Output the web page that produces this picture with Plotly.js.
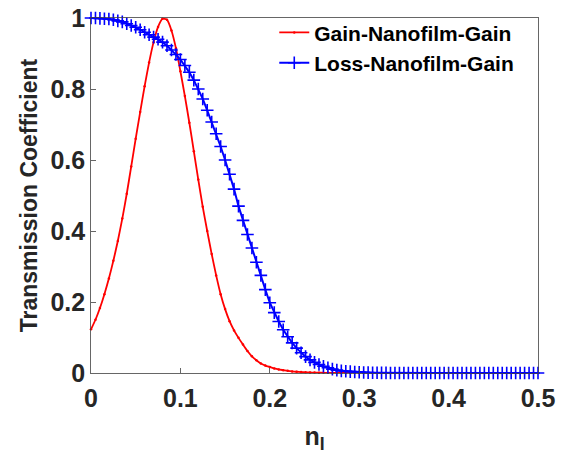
<!DOCTYPE html>
<html>
<head>
<meta charset="utf-8">
<script src="https://cdn.plot.ly/plotly-3.0.1.min.js"></script>
<style>html,body{margin:0;padding:0;background:#fff;}#chart{width:570px;height:454px;}</style>
</head>
<body>
<div id="chart"></div>
<script>
// n_I values (step 0.005 from 0 to 0.5)
const nI = [
0.000,0.005,0.010,0.015,0.020,0.025,0.030,0.035,0.040,0.045,
0.050,0.055,0.060,0.065,0.070,0.075,0.080,0.085,0.090,0.095,
0.100,0.105,0.110,0.115,0.120,0.125,0.130,0.135,0.140,0.145,
0.150,0.155,0.160,0.165,0.170,0.175,0.180,0.185,0.190,0.195,
0.200,0.205,0.210,0.215,0.220,0.225,0.230,0.235,0.240,0.245,
0.250,0.255,0.260,0.265,0.270,0.275,0.280,0.285,0.290,0.295,
0.300,0.305,0.310,0.315,0.320,0.325,0.330,0.335,0.340,0.345,
0.350,0.355,0.360,0.365,0.370,0.375,0.380,0.385,0.390,0.395,
0.400,0.405,0.410,0.415,0.420,0.425,0.430,0.435,0.440,0.445,
0.450,0.455,0.460,0.465,0.470,0.475,0.480,0.485,0.490,0.495,
0.500];

// Gain-Nanofilm-Gain transmission
const gainGain = [
0.123,0.150,0.183,0.222,0.266,0.316,0.372,0.435,0.505,0.582,
0.660,0.735,0.808,0.875,0.932,0.975,0.998,0.995,0.965,0.915,
0.850,0.780,0.705,0.625,0.545,0.468,0.400,0.335,0.275,0.222,
0.180,0.146,0.120,0.099,0.080,0.062,0.047,0.036,0.027,0.021,
0.017,0.013,0.010,0.008,0.006,0.0045,0.0035,0.0027,0.002,0.0015,
0.0011,0.0008,0.0006,0.0005,0.0004,0.0003,0.0002,0.0002,0.0001,0.0001,
0.0001,0,0,0,0,0,0,0,0,0,
0,0,0,0,0,0,0,0,0,0,
0,0,0,0,0,0,0,0,0,0,
0,0,0,0,0,0,0,0,0,0,
0];

// Loss-Nanofilm-Gain transmission
const lossGain = [
1.000,1.000,0.999,0.998,0.997,0.995,0.992,0.989,0.984,0.979,
0.974,0.967,0.960,0.953,0.946,0.940,0.932,0.922,0.910,0.897,
0.883,0.866,0.847,0.825,0.800,0.772,0.740,0.707,0.674,0.638,
0.600,0.560,0.518,0.470,0.430,0.390,0.352,0.312,0.275,0.235,
0.198,0.170,0.145,0.122,0.102,0.085,0.070,0.057,0.046,0.037,
0.030,0.024,0.019,0.015,0.011,0.008,0.006,0.005,0.004,0.003,
0.002,0.0015,0.001,0.0008,0.0006,0.0004,0.0003,0.0002,0.0001,0.0001,
0,0,0,0,0,0,0,0,0,0,
0,0,0,0,0,0,0,0,0,0,
0,0,0,0,0,0,0,0,0,0,
0];

const xTickVals = [0, 0.1, 0.2, 0.3, 0.4, 0.5];
const xTickText = ['0', '0.1', '0.2', '0.3', '0.4', '0.5'];
const yTickVals = [0, 0.2, 0.4, 0.6, 0.8, 1];
const yTickText = ['0', '0.2', '0.4', '0.6', '0.8', '1'];

const FONT = 'Liberation Sans, Arial, Helvetica, sans-serif';

const traces = [
  {
    x: nI, y: gainGain, name: 'Gain-Nanofilm-Gain',
    type: 'scatter', mode: 'lines+markers', cliponaxis: false,
    line: {color: '#ff0000', width: 1.8, shape: 'spline', smoothing: 0.6},
    marker: {symbol: 'circle', size: 2.5, color: '#ff0000'}
  },
  {
    x: nI, y: lossGain, name: 'Loss-Nanofilm-Gain',
    type: 'scatter', mode: 'lines+markers', cliponaxis: false,
    line: {color: '#0000ff', width: 2},
    marker: {symbol: 'cross-thin-open', size: 9, color: '#0000ff', line: {color: '#0000ff', width: 1.6}}
  }
];

const axisCommon = {
  showgrid: false, zeroline: false,
  showline: true, linecolor: '#404040', linewidth: 0.8, mirror: true,
  ticks: 'inside', ticklen: 5, tickwidth: 0.8, tickcolor: '#404040',
  tickfont: {family: FONT, size: 25, weight: 'bold', color: '#262626'}
};

const layout = {
  width: 570, height: 454,
  margin: {l: 91, r: 32, t: 12, b: 81},
  paper_bgcolor: '#ffffff', plot_bgcolor: '#ffffff',
  showlegend: true,
  legend: {
    x: 0.41, y: 1.016, xanchor: 'left', yanchor: 'top',
    bgcolor: 'rgba(255,255,255,0)', borderwidth: 0,
    font: {family: FONT, size: 21, weight: 'bold', color: '#000000'},
    tracegroupgap: 0
  },
  xaxis: Object.assign({}, axisCommon, {
    range: [0, 0.5], tickvals: xTickVals, ticktext: xTickText,
    ticklabelstandoff: 3,
    title: {text: 'n<sub>I</sub>', font: {family: FONT, size: 25, weight: 'bold', color: '#262626'}, standoff: 18}
  }),
  yaxis: Object.assign({}, axisCommon, {
    range: [0, 1.0000001], tickvals: yTickVals, ticktext: yTickText,
    title: {text: 'Transmission Coefficient', font: {family: FONT, size: 23, weight: 'bold', color: '#262626'}, standoff: 6}
  })
};

Plotly.newPlot('chart', traces, layout, {displayModeBar: false, staticPlot: true});
</script>
</body>
</html>
